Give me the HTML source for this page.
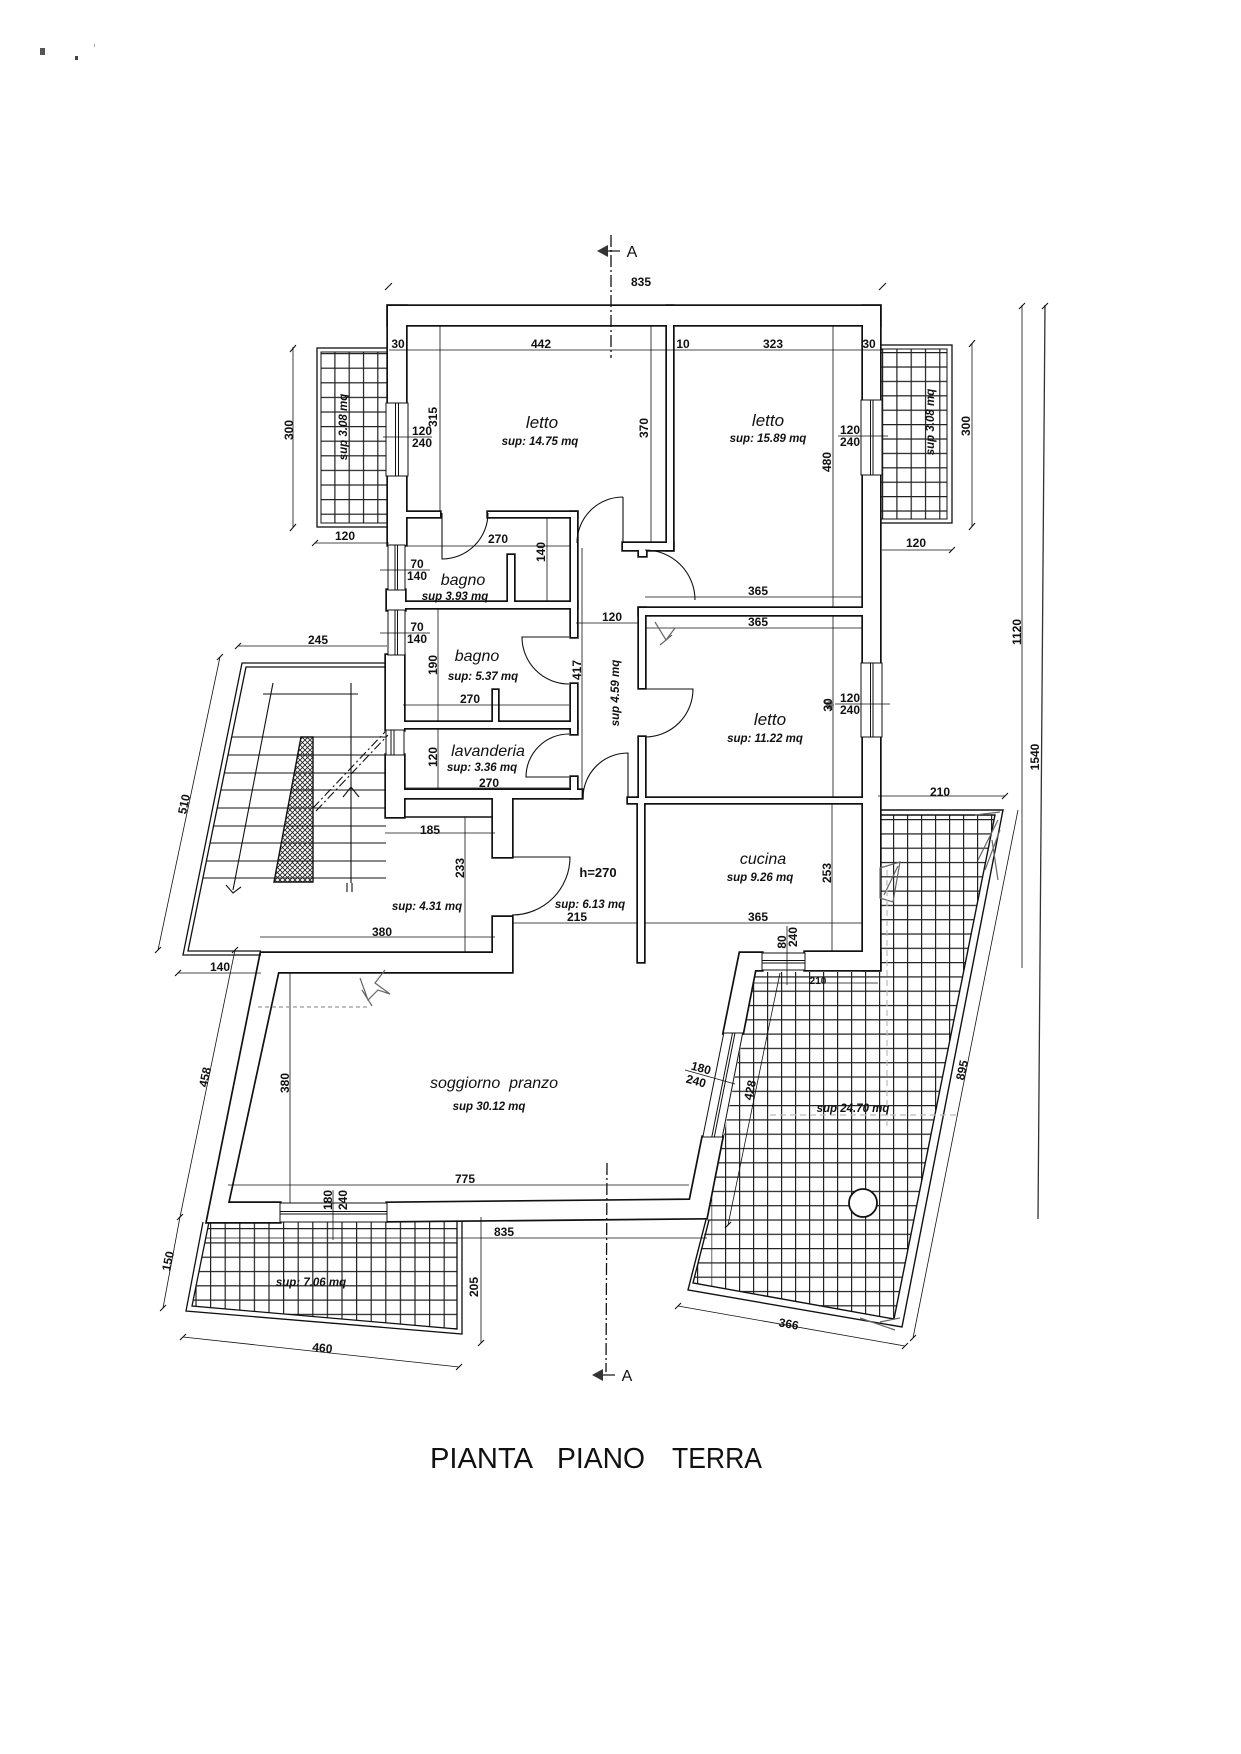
<!DOCTYPE html>
<html><head><meta charset="utf-8"><style>
html,body{margin:0;padding:0;background:#fff;}
svg{display:block;}
.d{font-family:"Liberation Sans",sans-serif;font-weight:bold;font-size:12px;fill:#111;text-anchor:middle;}
.r{font-family:"Liberation Sans",sans-serif;font-style:italic;font-size:17px;fill:#111;text-anchor:middle;}
.s{font-family:"Liberation Sans",sans-serif;font-style:italic;font-weight:bold;font-size:11.5px;fill:#111;text-anchor:middle;}
.t{font-family:"Liberation Sans",sans-serif;font-size:29px;fill:#111;}
</style></head><body>
<svg width="1241" height="1754" viewBox="0 0 1241 1754" xmlns="http://www.w3.org/2000/svg">
<defs>
<pattern id="gL" patternUnits="userSpaceOnUse" x="320" y="353" width="14.3" height="14.6"><path d="M0,0.6H14.3M0.6,0V14.6" stroke="#222" stroke-width="1.2" fill="none"/></pattern>
<pattern id="gR" patternUnits="userSpaceOnUse" x="882" y="352" width="14.3" height="14.4"><path d="M0,0.6H14.3M0.6,0V14.4" stroke="#222" stroke-width="1.2" fill="none"/></pattern>
<pattern id="gT" patternUnits="userSpaceOnUse" x="753" y="819" width="14" height="14.3"><path d="M0,0.6H14M0.6,0V14.3" stroke="#222" stroke-width="1.2" fill="none"/></pattern>
<pattern id="gB" patternUnits="userSpaceOnUse" x="210" y="1228" width="14.6" height="14.3"><path d="M0,0.6H14.6M0.6,0V14.3" stroke="#222" stroke-width="1.2" fill="none"/></pattern>
<pattern id="xh" patternUnits="userSpaceOnUse" width="5" height="5"><path d="M0,0L5,5M5,0L0,5" stroke="#222" stroke-width="0.9"/></pattern>
<g id="W">
<rect x="388" y="306" width="492" height="19"/>
<rect x="388" y="306" width="18" height="97"/>
<rect x="388" y="476" width="18" height="69"/>
<rect x="387" y="590" width="18" height="20"/>
<rect x="386" y="655" width="18" height="75"/>
<rect x="386" y="755" width="18" height="62"/>
<rect x="863" y="306" width="17" height="94"/>
<rect x="863" y="475" width="17" height="188"/>
<rect x="863" y="737" width="17" height="233"/>
<rect x="805" y="952" width="75" height="18"/>
<polygon points="740,953 762,953 762,970 755,970 742.7,1033 723.8,1033"/>
<polygon points="722.3,1137 706.4,1218 387,1221 387,1203 690.1,1200 702.8,1137"/>
<polygon points="261,953 493,953 493,917 512,917 512,972 278,972 228,1203 280,1203 280,1222 207,1222"/>
<rect x="493" y="798" width="19" height="59"/>
<rect x="404" y="790" width="178" height="8"/>
<rect x="628" y="798" width="235" height="5"/>
<rect x="638" y="798" width="6" height="164"/>
<rect x="639" y="608" width="224" height="7"/>
<rect x="639" y="608" width="6" height="80"/>
<rect x="639" y="737" width="6" height="61"/>
<rect x="667" y="306" width="6" height="244"/>
<rect x="623" y="543" width="50" height="7"/>
<rect x="639" y="549" width="7" height="7"/>
<rect x="406" y="512" width="34" height="5"/>
<rect x="488" y="512" width="89" height="5"/>
<rect x="571" y="512" width="6" height="125"/>
<rect x="571" y="684" width="6" height="50"/>
<rect x="571" y="777" width="6" height="21"/>
<rect x="508" y="555" width="6" height="47"/>
<rect x="404" y="602" width="173" height="6"/>
<rect x="493" y="690" width="5" height="32"/>
<rect x="404" y="722" width="173" height="6"/>
</g>
</defs>
<rect width="1241" height="1754" fill="#fff"/>

<!-- scan marks -->
<rect x="40" y="48" width="5" height="7" fill="#555"/>
<rect x="75" y="56" width="3" height="4" fill="#444"/>
<rect x="94" y="44" width="1" height="3" fill="#aaa"/>

<!-- balconies grids -->
<polygon points="321,352 388,352 388,523 321,523" fill="url(#gL)"/>
<rect x="317" y="348" width="72" height="179" fill="none" stroke="#111" stroke-width="1.3"/>
<rect x="321" y="352" width="67" height="171" fill="none" stroke="#111" stroke-width="1"/>
<polygon points="880,349 947,349 947,519 880,519" fill="url(#gR)"/>
<rect x="880" y="345" width="72" height="178" fill="none" stroke="#111" stroke-width="1.3"/>
<rect x="880" y="349" width="67" height="170" fill="none" stroke="#111" stroke-width="1"/>

<!-- terrace -->
<polygon points="880,815 995,815 894,1319 693,1283 708,1218 755,972 880,972" fill="url(#gT)"/>
<g stroke="#111" fill="none" stroke-width="1.4">
<path d="M880,810H1003L902,1327L688,1290L706.4,1218"/>
<path d="M880,815H995L894,1319L693,1283L709,1220"/>
</g>
<circle cx="863" cy="1203" r="14" fill="#fff" stroke="#111" stroke-width="1.8"/>

<!-- lower balcony -->
<polygon points="209,1222 457,1222 457,1329 192,1306" fill="url(#gB)"/>
<g stroke="#111" fill="none" stroke-width="1.3">
<path d="M203,1222L186,1311L462,1334V1222"/>
<path d="M209,1222L192,1306L457,1329V1222"/>
</g>

<!-- walls -->
<use href="#W" fill="#111" stroke="#111" stroke-width="3.4"/>
<use href="#W" fill="#fff" stroke="none"/>

<!-- windows -->
<g stroke="#111" stroke-width="1" fill="none">
<rect x="386" y="403" width="22" height="73" fill="#fff"/><path d="M395.5,403V476M398.5,403V476"/>
<rect x="388" y="545" width="17" height="45" fill="#fff"/><rect x="388" y="610" width="17" height="45" fill="#fff"/>
<path d="M395,545V590M397.5,545V590M395,610V655M397.5,610V655"/>
<rect x="386" y="730" width="18" height="25" fill="#fff"/><path d="M391,730V755M394,730V755"/>
<rect x="861" y="400" width="21" height="75" fill="#fff"/><path d="M870.5,400V475M873,400V475"/>
<rect x="861" y="663" width="21" height="74" fill="#fff"/><path d="M870.5,663V737M873,663V737"/>
<rect x="762" y="953" width="43" height="17" fill="#fff"/><path d="M762,960.5H805M762,963H805"/>
<rect x="280" y="1203" width="107" height="19" fill="#fff"/><path d="M280,1211.5H387M280,1214H387"/>
<polygon points="742.7,1033 723.8,1033 702.8,1137 722.3,1137" fill="#fff"/>
<path d="M732.5,1033L711.8,1137M735,1033L714.3,1137"/>
</g>

<!-- doors -->
<g stroke="#111" stroke-width="1.1" fill="none">
<path d="M623,497V543M623,497A46,46 0 0 0 577,543"/>
<path d="M442,513V559A46,46 0 0 0 488,513"/>
<path d="M645,550A50,50 0 0 1 695,600"/>
<path d="M645,689H693A48,48 0 0 1 645,737"/>
<path d="M569,637H522A47,47 0 0 0 569,684"/>
<path d="M569,777H526A43,43 0 0 1 569,734"/>
<path d="M628,798V753A45,45 0 0 0 583,798"/>
<path d="M512,857H570A58,58 0 0 1 512,915"/>
</g>

<!-- misc lines (ingresso) -->
<path d="M404,817H493" stroke="#111" stroke-width="1.6"/>

<!-- stair landing -->
<g stroke="#111" fill="none" stroke-width="1.3">
<path d="M386,663H242L183,955H261"/>
<path d="M386,667H246L188,951H261"/>
</g>
<g stroke="#111" stroke-width="1">
<path d="M231.7,737H386M228,755H386M224.3,773H386M220.8,790H386M217.1,808H386M213.4,826H386M209.9,843H386M206.2,861H386M202.9,878H386"/>
</g>
<polygon points="301,737 313,737 313,882 274,882" fill="url(#xh)" stroke="#111" stroke-width="1.4"/>
<g stroke="#111" stroke-width="1.1" fill="none" stroke-dasharray="9 3 2 3">
<path d="M313,808L385,732"/><path d="M316,811L388,735"/>
</g>
<g stroke="#111" stroke-width="1.1" fill="none">
<path d="M351,683V883M263,694H358"/>
<path d="M343,797L351,787L359,797"/>
<path d="M273,683L233,890"/>
<path d="M226,885L233,893L241,887"/>
<path d="M347,883V892M352,883V892"/>
</g>

<!-- section lines -->
<g stroke="#111" stroke-width="1.3" fill="none" stroke-dasharray="12 3 2 3">
<path d="M611,235V358"/><path d="M607,1163L606,1372"/>
</g>
<g stroke="#111" stroke-width="1.2">
<path d="M606,251H620"/><path d="M601,1375H615"/>
</g>
<polygon points="597,251 608,245 608,257" fill="#333"/>
<polygon points="592,1375 603,1369 603,1381" fill="#333"/>
<text x="632" y="257" style="font-family:'Liberation Sans',sans-serif;font-size:16px;fill:#111" text-anchor="middle">A</text>
<text x="627" y="1381" style="font-family:'Liberation Sans',sans-serif;font-size:16px;fill:#111" text-anchor="middle">A</text>

<!-- dimension lines -->
<g stroke="#111" stroke-width="0.8" fill="none">
<path d="M389,350H882"/>
<path d="M293,347V528M972,343V527"/>
<path d="M315,543H389M882,550H952"/>
<path d="M440,325V512M651,325V543M833,325V608"/>
<path d="M406,546H571M547,517V602"/>
<path d="M380,570H430M380,633H430"/>
<path d="M438,608V722M403,705H569M438,728V790M404,788H569"/>
<path d="M582,548V798M576,623H639"/>
<path d="M645,597H863M645,628H863M833,615V798"/>
<path d="M383,437H432M838,436H888M835,704H890"/>
<path d="M238,646H387M220,657L158,950"/>
<path d="M385,833H495M465,817V953M260,937H495M178,973H261"/>
<path d="M235,950L180,1217L163,1308"/>
<path d="M512,923H637M645,923H862M832,803V952M787,926V985"/>
<path d="M878,796H1005M753,983H878"/>
<path d="M1022,305V968M290,973V1203M228,1185H689M206,1238H707M481,1217V1343"/>
<path d="M183,1337L459,1367M780,973L728,1225M1018,810L913,1338M678,1306L905,1346"/>
<path d="M333,1190V1240M685,1070L735,1084"/>
</g>
<path d="M1045,305L1038,1219" stroke="#333" stroke-width="1.3" fill="none"/>
<!-- dim ticks -->
<g stroke="#111" stroke-width="1.1">
<path d="M385,290L392,283M879,290L886,283M1019,309L1025,303M1042,309L1048,303"/>
<path d="M290,352L296,345M290,531L296,524M969,347L975,340M969,530L975,523"/>
<path d="M312,546L318,540M949,553L955,547M235,649L241,643M217,660L223,654M155,953L161,947"/>
<path d="M175,976L181,970M232,953L238,947M177,1220L183,1214M160,1311L166,1305"/>
<path d="M180,1340L186,1334M456,1370L462,1364M478,1346L484,1340M1002,799L1008,793M910,1341L916,1335M902,1349L908,1343M675,1309L681,1303M725,1228L731,1222"/>
</g>

<!-- scribbles -->
<g stroke="#666" stroke-width="1.2" fill="none">
<path d="M880,868L900,862L893,902L880,898Z"/>
<path d="M884,895L898,866"/>
<path d="M975,815L1000,812M978,860L998,820M985,870L1000,830M992,840L998,880"/>
<path d="M360,978L368,1000L378,990L390,994L375,983L385,970M362,990L372,1006"/>
<path d="M258,1007H368" stroke-dasharray="4 3" stroke="#999"/>
<path d="M655,622L666,640L675,628M660,645L672,635"/>
<path d="M824,700L832,710"/>
<path d="M770,1115H960" stroke-dasharray="6 4" stroke="#bbb"/>
<path d="M887,870V1130" stroke-dasharray="6 4" stroke="#bbb"/>
<path d="M860,1318L895,1330M880,1322L900,1318"/>
</g>
<circle cx="830" cy="705" r="4" fill="#777"/>

<!-- texts: dims -->
<g class="d">
<text x="641" y="286">835</text>
<text x="398" y="348">30</text>
<text x="541" y="348">442</text>
<text x="683" y="348">10</text>
<text x="773" y="348">323</text>
<text x="869" y="348">30</text>
<text x="422" y="435">120</text>
<text x="422" y="447">240</text>
<text x="850" y="434">120</text>
<text x="850" y="446">240</text>
<text x="345" y="540">120</text>
<text x="916" y="547">120</text>
<text x="498" y="543">270</text>
<text x="417" y="568">70</text>
<text x="417" y="580">140</text>
<text x="417" y="631">70</text>
<text x="417" y="643">140</text>
<text x="470" y="703">270</text>
<text x="489" y="787">270</text>
<text x="612" y="621">120</text>
<text x="758" y="595">365</text>
<text x="758" y="626">365</text>
<text x="850" y="702">120</text>
<text x="850" y="714">240</text>
<text x="318" y="644">245</text>
<text x="430" y="834">185</text>
<text x="382" y="936">380</text>
<text x="220" y="971">140</text>
<text x="598" y="877" style="font-size:13px">h=270</text>
<text x="577" y="921">215</text>
<text x="758" y="921">365</text>
<text x="818" y="984" style="font-size:10px">210</text>
<text x="940" y="796">210</text>
<text x="465" y="1183">775</text>
<text x="504" y="1236">835</text>
<text transform="translate(437,417) rotate(-90)" x="0" y="0">315</text>
<text transform="translate(648,428) rotate(-90)" x="0" y="0">370</text>
<text transform="translate(831,462) rotate(-90)" x="0" y="0">480</text>
<text transform="translate(293,430) rotate(-90)" x="0" y="0">300</text>
<text transform="translate(970,426) rotate(-90)" x="0" y="0">300</text>
<text transform="translate(545,552) rotate(-90)" x="0" y="0">140</text>
<text transform="translate(437,665) rotate(-90)" x="0" y="0">190</text>
<text transform="translate(437,757) rotate(-90)" x="0" y="0">120</text>
<text transform="translate(581,670) rotate(-90)" x="0" y="0">417</text>
<text transform="translate(832,705) rotate(-90)" x="0" y="0">30</text>
<text transform="translate(188,805) rotate(-78)" x="0" y="0">510</text>
<text transform="translate(464,868) rotate(-90)" x="0" y="0">233</text>
<text transform="translate(831,873) rotate(-90)" x="0" y="0">253</text>
<text transform="translate(786,942) rotate(-90)" x="0" y="0">80</text>
<text transform="translate(797,937) rotate(-90)" x="0" y="0">240</text>
<text transform="translate(1021,632) rotate(-90)" x="0" y="0">1120</text>
<text transform="translate(1039,757) rotate(-90)" x="0" y="0">1540</text>
<text transform="translate(209,1078) rotate(-78)" x="0" y="0">458</text>
<text transform="translate(172,1262) rotate(-78)" x="0" y="0">150</text>
<text transform="translate(289,1083) rotate(-90)" x="0" y="0">380</text>
<text transform="translate(332,1200) rotate(-90)" x="0" y="0">180</text>
<text transform="translate(347,1200) rotate(-90)" x="0" y="0">240</text>
<text transform="translate(700,1072) rotate(15)" x="0" y="0">180</text>
<text transform="translate(695,1085) rotate(15)" x="0" y="0">240</text>
<text transform="translate(754,1091) rotate(-78)" x="0" y="0">428</text>
<text transform="translate(966,1071) rotate(-78)" x="0" y="0">895</text>
<text transform="translate(478,1287) rotate(-90)" x="0" y="0">205</text>
<text transform="translate(322,1352) rotate(6)" x="0" y="0">460</text>
<text transform="translate(788,1328) rotate(10)" x="0" y="0">366</text>
</g>

<!-- room labels -->
<g class="r">
<text x="542" y="428">letto</text>
<text x="768" y="426">letto</text>
<text x="463" y="585" style="font-size:16px">bagno</text>
<text x="477" y="661" style="font-size:16px">bagno</text>
<text x="488" y="756" style="font-size:16px">lavanderia</text>
<text x="770" y="725">letto</text>
<text x="763" y="864" style="font-size:16px">cucina</text>
<text x="494" y="1088" style="font-size:16px" xml:space="preserve">soggiorno  pranzo</text>
</g>
<g class="s">
<text x="540" y="445">sup: 14.75 mq</text>
<text x="768" y="442">sup: 15.89 mq</text>
<text x="455" y="600">sup 3.93 mq</text>
<text x="483" y="680">sup: 5.37 mq</text>
<text x="482" y="771">sup: 3.36 mq</text>
<text x="765" y="742">sup: 11.22 mq</text>
<text x="427" y="910">sup: 4.31 mq</text>
<text x="590" y="908">sup: 6.13 mq</text>
<text x="760" y="881">sup 9.26 mq</text>
<text x="489" y="1110">sup 30.12 mq</text>
<text x="853" y="1112">sup 24.70 mq</text>
<text x="311" y="1286">sup: 7.06 mq</text>
<text transform="translate(347,427) rotate(-90)" x="0" y="0">sup 3.08 mq</text>
<text transform="translate(934,422) rotate(-90)" x="0" y="0">sup 3.08 mq</text>
<text transform="translate(619,693) rotate(-90)" x="0" y="0">sup 4.59 mq</text>
</g>

<!-- title -->
<text class="t" x="430" y="1468" textLength="103" lengthAdjust="spacingAndGlyphs">PIANTA</text>
<text class="t" x="557" y="1468" textLength="88" lengthAdjust="spacingAndGlyphs">PIANO</text>
<text class="t" x="672" y="1468" textLength="90" lengthAdjust="spacingAndGlyphs">TERRA</text>
</svg>
</body></html>
